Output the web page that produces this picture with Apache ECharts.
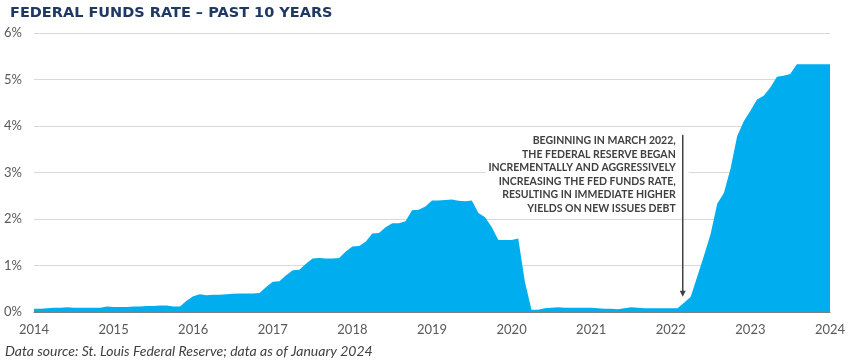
<!DOCTYPE html>
<html>
<head>
<meta charset="utf-8">
<script src="https://cdn.jsdelivr.net/npm/echarts@6/dist/echarts.min.js"></script>
<style>html,body{margin:0;padding:0;background:#fff;}#c{width:849px;height:362px;}</style>
</head>
<body>
<div id="c"></div>
<script>
// Monthly effective federal funds rate (%), Jan of each year through Dec
const rate2014 = [0.07,0.07,0.08,0.09,0.09,0.10,0.09,0.09,0.09,0.09,0.09,0.12];
const rate2015 = [0.11,0.11,0.11,0.12,0.12,0.13,0.13,0.14,0.14,0.12,0.12,0.24];
const rate2016 = [0.34,0.38,0.36,0.37,0.37,0.38,0.39,0.40,0.40,0.40,0.41,0.54];
const rate2017 = [0.65,0.66,0.79,0.90,0.91,1.04,1.15,1.16,1.15,1.15,1.16,1.30];
const rate2018 = [1.41,1.42,1.51,1.69,1.70,1.82,1.91,1.91,1.95,2.19,2.20,2.27];
const rate2019 = [2.40,2.40,2.41,2.42,2.39,2.38,2.40,2.13,2.04,1.83,1.55,1.55];
const rate2020 = [1.55,1.58,0.65,0.05,0.05,0.08,0.09,0.10,0.09,0.09,0.09,0.09];
const rate2021 = [0.09,0.08,0.07,0.07,0.06,0.08,0.10,0.09,0.08,0.08,0.08,0.08];
const rate2022 = [0.08,0.08,0.20,0.33,0.77,1.21,1.68,2.33,2.56,3.08,3.78,4.10];
const rate2023 = [4.33,4.57,4.65,4.83,5.06,5.08,5.12,5.33,5.33,5.33,5.33,5.33];
const rate2024 = [5.33];
const yearTicks = [2014,2015,2016,2017,2018,2019,2020,2021,2022,2023,2024];
const yTicks = [0,1,2,3,4,5,6];

const titleText = 'FEDERAL FUNDS RATE \u2013 PAST 10 YEARS';
const sourceText = 'Data source: St. Louis Federal Reserve; data as of January 2024';
const noteLines = [
  'BEGINNING IN MARCH 2022,',
  'THE FEDERAL RESERVE BEGAN',
  'INCREMENTALLY AND AGGRESSIVELY',
  'INCREASING THE FED FUNDS RATE,',
  'RESULTING IN IMMEDIATE HIGHER',
  'YIELDS ON NEW ISSUES DEBT'
];
const arrowX = 2022.15, arrowTop = 3.81, arrowBottom = 0.33;

const yearly = [rate2014,rate2015,rate2016,rate2017,rate2018,rate2019,rate2020,rate2021,rate2022,rate2023,rate2024];
const data = [];
yearly.forEach((arr, i) => {
  arr.forEach((v, m) => data.push([2014 + i + m / 12, v]));
});

const chart = echarts.init(document.getElementById('c'));
const option = {
  animation: false,
  title: {
    text: titleText, left: 5, top: 1,
    textStyle: {fontFamily: 'DejaVu Sans', fontWeight: 'bold', fontSize: 14.5, color: '#1f3864'}
  },
  grid: {left: 34, right: 19, top: 33, bottom: 50},
  xAxis: {
    type: 'value', min: 2014, max: 2024, interval: 1,
    axisLine: {show: true, lineStyle: {color: '#7f7f7f', width: 1}},
    axisTick: {show: false},
    splitLine: {show: false},
    axisLabel: {color: '#595959', fontFamily: 'Lato', fontSize: 13, margin: 11,
      formatter: v => String(v)}
  },
  yAxis: {
    type: 'value', min: 0, max: 6, interval: 1,
    axisLine: {show: false}, axisTick: {show: false},
    splitLine: {lineStyle: {color: '#d9d9d9', width: 1}},
    axisLabel: {color: '#595959', fontFamily: 'Lato', fontSize: 13, margin: 12,
      formatter: v => v + '%'}
  },
  series: [{
    type: 'line', data: data, symbol: 'none', smooth: false,
    lineStyle: {width: 0},
    areaStyle: {color: '#00adef', opacity: 1},
    z: 2
  }]
};
chart.setOption(option);

const pTop = chart.convertToPixel({gridIndex: 0}, [arrowX, arrowTop]);
const pBot = chart.convertToPixel({gridIndex: 0}, [arrowX, arrowBottom]);
const textRight = pTop[0] - 7;
chart.setOption({
  graphic: [
    {type: 'rect', z: 100, shape: {x: textRight - 190, y: pTop[1] - 4, width: 203, height: 82}, style: {fill: '#fff'}},
    {type: 'text', z: 101, x: textRight, y: pTop[1] - 1,
      style: {text: noteLines.join('\n'), align: 'right', verticalAlign: 'top',
        font: 'bold 10.5px Lato', fill: '#404040', lineHeight: 13.6}},
    {type: 'line', z: 102, shape: {x1: pTop[0], y1: pTop[1], x2: pBot[0], y2: pBot[1] - 5},
      style: {stroke: '#404040', lineWidth: 1.5}},
    {type: 'polygon', z: 102, shape: {points: [[pBot[0] - 3, pBot[1] - 6], [pBot[0] + 3, pBot[1] - 6], [pBot[0], pBot[1]]]},
      style: {fill: '#404040'}},
    {type: 'text', z: 101, left: 5, top: 344,
      style: {text: sourceText, font: 'italic 14px Lato', fill: '#404040'}}
  ]
});
</script>
</body>
</html>
